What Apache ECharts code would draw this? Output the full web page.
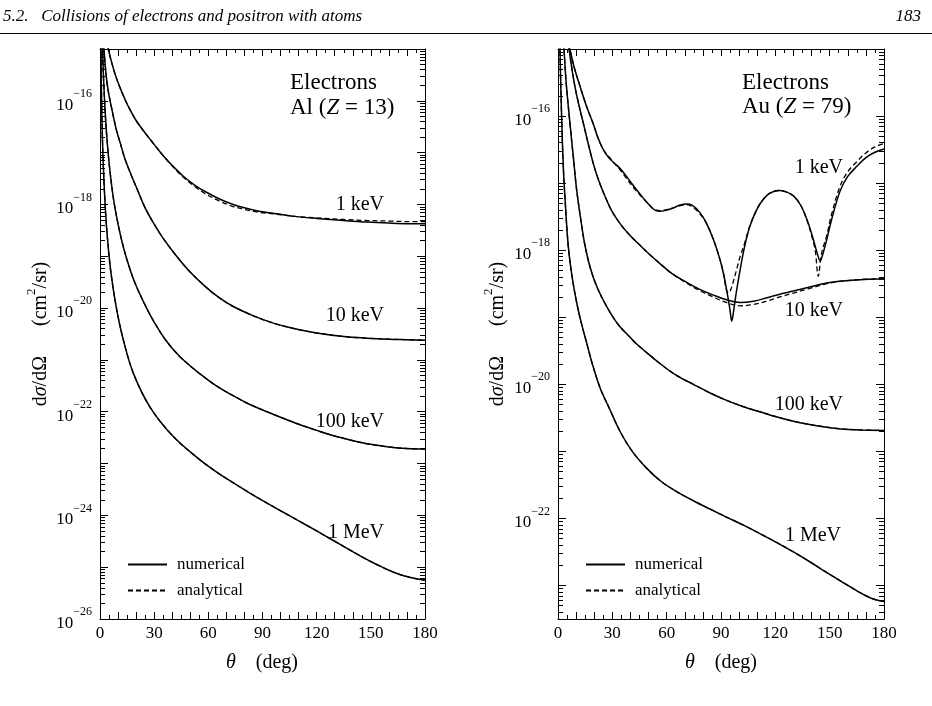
<!DOCTYPE html>
<html>
<head>
<meta charset="utf-8">
<script src="https://cdn.jsdelivr.net/npm/echarts@6/dist/echarts.min.js"></script>
<style>
  html, body { margin: 0; padding: 0; background: #fff; }
  #chart { width: 932px; height: 706px; }
</style>
</head>
<body>
<div id="chart"></div>
<script>
// values are log10 of dσ/dΩ (cm²/sr)

// ---- Al (Z = 13) ----
const thAl1k = [3.5, 4.6, 6, 8.3, 11, 13.8, 15.7, 20, 25, 28.6, 32, 36, 40.6, 46, 52.6, 58.2, 66.5, 73, 79.4, 88, 97.9, 108, 120, 135, 147.7, 160, 170, 180]
const lgAl1kNum = [-14.8, -15.0, -15.2, -15.48, -15.74, -15.97, -16.11, -16.38, -16.62, -16.78, -16.93, -17.1, -17.27, -17.45, -17.63, -17.75, -17.9, -17.99, -18.06, -18.13, -18.18, -18.23, -18.27, -18.31, -18.34, -18.36, -18.37, -18.37]
const lgAl1kAna = [-14.8, -15.0, -15.2, -15.48, -15.74, -15.97, -16.11, -16.38, -16.62, -16.78, -16.93, -17.1, -17.28, -17.47, -17.66, -17.79, -17.94, -18.03, -18.09, -18.15, -18.19, -18.23, -18.26, -18.29, -18.31, -18.32, -18.33, -18.33]

const thAl10k = [2.0, 2.2, 3.3, 4.5, 6.5, 9, 11.1, 13.8, 17.5, 21, 24.9, 30, 35.1, 42, 49.8, 58.2, 66, 73.8, 85, 96, 108, 120, 135, 147.7, 160, 170, 180]
const lgAl10kNum = [-14.85, -15.0, -15.47, -15.8, -16.15, -16.55, -16.8, -17.12, -17.45, -17.74, -18.06, -18.38, -18.66, -18.98, -19.3, -19.58, -19.8, -19.97, -20.15, -20.29, -20.4, -20.48, -20.55, -20.58, -20.6, -20.61, -20.62]
const lgAl10kAna = lgAl10kNum.slice()

const thAl100k = [1.3, 1.4, 2, 3, 4, 5.5, 7.5, 10, 13, 16.6, 20, 25.8, 30, 36, 44.3, 55.4, 64, 73.7, 83, 92.5, 101, 110.8, 120, 129, 139, 148, 160, 170, 180]
const lgAl100kNum = [-14.9, -15.0, -15.6, -16.3, -16.8, -17.35, -17.9, -18.38, -18.83, -19.25, -19.57, -20.0, -20.27, -20.6, -20.94, -21.27, -21.49, -21.69, -21.86, -22.0, -22.12, -22.25, -22.36, -22.46, -22.55, -22.62, -22.68, -22.71, -22.72]
const lgAl100kAna = lgAl100kNum.slice()

const thAl1M = [0.45, 0.5, 0.7, 1, 1.4, 2, 3, 4, 6, 9.1, 12.9, 18.5, 27.7, 40.6, 55.4, 64, 73.7, 83, 92.3, 101, 110.8, 120, 129, 138, 147.7, 154, 160, 166, 172, 176, 180]
const lgAl1MNum = [-14.9, -15.0, -15.6, -16.2, -16.8, -17.4, -18.1, -18.6, -19.3, -20.0, -20.61, -21.26, -21.91, -22.48, -22.93, -23.15, -23.37, -23.57, -23.76, -23.93, -24.12, -24.3, -24.48, -24.66, -24.85, -24.96, -25.06, -25.14, -25.2, -25.23, -25.25]
const lgAl1MAna = lgAl1MNum.slice()

// ---- Au (Z = 79) ----
const thAu1kNum = [5.5, 6.5, 9, 12.1, 15.7, 19.5, 22, 25, 28, 31, 34.2, 37, 40, 43.4, 47, 49.9, 52, 54, 56.3, 59, 63.7, 67, 71.1, 74, 78.4, 82, 85.8, 89, 91.3, 93.5, 95, 95.9, 97, 98.5, 100.5, 103, 106, 110, 113.4, 117, 121.7, 126, 130, 134, 137.4, 140, 142, 143.5, 144.7, 146, 148.4, 151, 155.7, 160, 165, 170, 175, 180]
const lgAu1kNum = [-14.92, -15.0, -15.28, -15.55, -15.85, -16.12, -16.32, -16.5, -16.62, -16.7, -16.78, -16.87, -16.98, -17.1, -17.22, -17.31, -17.37, -17.41, -17.42, -17.41, -17.37, -17.33, -17.31, -17.33, -17.44, -17.6, -17.84, -18.1, -18.34, -18.65, -18.9, -19.06, -18.9, -18.62, -18.3, -17.95, -17.64, -17.38, -17.24, -17.15, -17.11, -17.13, -17.19, -17.33, -17.54, -17.75, -17.94, -18.08, -18.16, -18.08, -17.84, -17.55, -17.12, -16.9, -16.75, -16.62, -16.54, -16.49]
const thAu1kAna = [5.5, 6.5, 9, 12.1, 15.7, 19.5, 22, 25, 28, 31, 34.2, 37, 40, 43.4, 47, 49.9, 52, 54, 56.3, 59, 63.7, 67, 71.1, 74, 78.4, 82, 85.8, 89, 91.3, 93, 94.3, 95.5, 97, 98.7, 100.5, 103, 106, 110, 113.4, 117, 121.7, 126, 130, 134, 137.4, 140, 142, 143.7, 145.5, 148.4, 151, 155.7, 160, 165, 170, 175, 180]
const lgAu1kAna = [-14.92, -15.0, -15.28, -15.55, -15.85, -16.12, -16.32, -16.5, -16.6, -16.7, -16.8, -16.9, -17.01, -17.12, -17.23, -17.31, -17.37, -17.4, -17.41, -17.4, -17.37, -17.34, -17.32, -17.35, -17.46, -17.6, -17.84, -18.1, -18.34, -18.6, -18.64, -18.58, -18.45, -18.28, -18.1, -17.9, -17.63, -17.38, -17.24, -17.15, -17.11, -17.13, -17.19, -17.33, -17.55, -17.78, -18.0, -18.39, -18.05, -17.78, -17.47, -17.05, -16.83, -16.68, -16.55, -16.46, -16.41]

const thAu10k = [5.5, 6.1, 8, 10, 14, 19.5, 23, 26, 30, 35, 39.8, 45, 50, 56.3, 63, 71, 78, 85.8, 93, 100.5, 108, 115.3, 122, 130, 139, 148.4, 157, 166.8, 175, 180]
const lgAu10kNum = [-14.9, -15.0, -15.35, -15.65, -16.11, -16.71, -17.0, -17.2, -17.43, -17.63, -17.78, -17.92, -18.05, -18.2, -18.35, -18.48, -18.58, -18.67, -18.74, -18.78, -18.76, -18.71, -18.66, -18.61, -18.55, -18.49, -18.46, -18.44, -18.43, -18.43]
const lgAu10kAna = [-14.9, -15.0, -15.35, -15.65, -16.11, -16.71, -17.0, -17.2, -17.43, -17.63, -17.78, -17.92, -18.05, -18.2, -18.35, -18.49, -18.6, -18.7, -18.78, -18.83, -18.81, -18.76, -18.7, -18.64, -18.57, -18.5, -18.46, -18.44, -18.43, -18.43]

const thAu100k = [3.0, 3.3, 4.5, 6.6, 8.5, 10.3, 13, 14.9, 18, 22, 26.9, 33, 39.8, 43.4, 50, 56.3, 65, 74.7, 84, 93.1, 102, 111.5, 120, 130, 139, 148.4, 158, 166.8, 180]
const lgAu100kNum = [-14.9, -15.0, -15.5, -16.11, -16.62, -17.1, -17.62, -17.93, -18.28, -18.58, -18.84, -19.1, -19.3, -19.4, -19.55, -19.69, -19.86, -20.0, -20.13, -20.24, -20.33, -20.41, -20.48, -20.55, -20.6, -20.64, -20.67, -20.68, -20.69]
const lgAu100kAna = lgAu100kNum.slice()

const thAu1M = [1.0, 1.1, 1.5, 2.2, 3, 3.9, 5.7, 7.8, 10.3, 13, 15.8, 19, 23.2, 28.7, 34.2, 41, 48.9, 57, 65.5, 75, 83.9, 93, 102.4, 111, 120.8, 130, 139.2, 148, 157.6, 165, 170.5, 175, 180]
const lgAu1MNum = [-14.9, -15.0, -15.5, -16.2, -16.8, -17.24, -17.95, -18.4, -18.78, -19.1, -19.38, -19.7, -20.05, -20.38, -20.7, -21.0, -21.25, -21.45, -21.6, -21.74, -21.86, -21.98, -22.1, -22.22, -22.36, -22.5, -22.65, -22.8, -22.96, -23.08, -23.16, -23.21, -23.24]
const lgAu1MAna = lgAu1MNum.slice()

// axis ranges (log10) and labels
const yRangeAl = [-26, -15]
const yRangeAu = [-23.5, -15]
const yLabelsAl = [-26, -24, -22, -20, -18, -16]
const yLabelsAu = [-22, -20, -18, -16]
const xLabels = [0, 30, 60, 90, 120, 150, 180]
const energyLabels = ['1 keV', '10 keV', '100 keV', '1 MeV']

const FONT = 'Liberation Serif'
const chart = echarts.init(document.getElementById('chart'))

function decades (lo, hi) {
  const out = []
  for (let n = Math.ceil(lo); n <= hi; n++) out.push(n)
  return out
}
function minorLogTicks (lo, hi) {
  const out = []
  for (let n = Math.floor(lo); n < hi; n++) {
    for (let k = 2; k <= 9; k++) {
      const v = n + Math.log10(k)
      if (v > lo && v < hi) out.push(v)
    }
  }
  return out
}

const yLabelRich = {
  b: { fontFamily: FONT, fontSize: 17, color: '#000', lineHeight: 26, verticalAlign: 'bottom' },
  s: { fontFamily: FONT, fontSize: 12, color: '#000', lineHeight: 17, verticalAlign: 'top' }
}

function makeXAxes (g) {
  const base = {
    type: 'value',
    gridIndex: g,
    min: 0,
    max: 180,
    interval: 10,
    axisLine: { show: true, lineStyle: { color: '#000', width: 1 } },
    axisTick: { show: true, inside: true, length: 7, lineStyle: { color: '#000', width: 1 } },
    minorTick: { show: true, splitNumber: 2, length: 4, lineStyle: { color: '#000', width: 1 } },
    splitLine: { show: false },
    minorSplitLine: { show: false }
  }
  return [
    Object.assign({}, base, {
      position: 'bottom',
      axisLabel: {
        show: true,
        color: '#000',
        fontFamily: FONT,
        fontSize: 17,
        margin: 6,
        formatter: v => (xLabels.indexOf(v) >= 0 ? String(v) : '')
      }
    }),
    Object.assign({}, base, { position: 'top', axisLabel: { show: false } })
  ]
}

function makeYAxes (g, range, labels) {
  const majors = decades(range[0], range[1])
  const minors = minorLogTicks(range[0], range[1])
  const base = {
    type: 'value',
    gridIndex: g,
    min: range[0],
    max: range[1],
    splitLine: { show: false }
  }
  const line = { show: true, lineStyle: { color: '#000', width: 1 } }
  return [
    Object.assign({}, base, {
      position: 'left',
      axisLine: line,
      axisTick: { show: true, inside: true, length: 8, customValues: majors, lineStyle: { color: '#000' } },
      axisLabel: {
        show: true,
        customValues: labels,
        margin: 8,
        formatter: v => '{b|10}{s|−' + Math.round(-v) + '}',
        rich: yLabelRich
      }
    }),
    Object.assign({}, base, {
      position: 'left',
      axisLine: { show: false },
      axisTick: { show: true, inside: true, length: 5, customValues: minors, lineStyle: { color: '#000' } },
      axisLabel: { show: false }
    }),
    Object.assign({}, base, {
      position: 'right',
      axisLine: line,
      axisTick: { show: true, inside: true, length: 8, customValues: majors, lineStyle: { color: '#000' } },
      axisLabel: { show: false }
    }),
    Object.assign({}, base, {
      position: 'right',
      axisLine: { show: false },
      axisTick: { show: true, inside: true, length: 5, customValues: minors, lineStyle: { color: '#000' } },
      axisLabel: { show: false }
    })
  ]
}

function pairs (th, lg) {
  return th.map((t, i) => [t, lg[i]])
}

function curve (name, g, th, lg, dashed) {
  return {
    name: name,
    type: 'line',
    xAxisIndex: g * 2,
    yAxisIndex: g * 4,
    data: pairs(th, lg),
    symbol: 'none',
    smooth: 0.35,
    clip: true,
    color: '#000',
    z: dashed ? 3 : 2,
    lineStyle: dashed
      ? { color: '#000', width: 1.3, type: [5, 3] }
      : { color: '#000', width: 1.5, type: 'solid' }
  }
}

const series = [
  curve('numerical', 0, thAl1k, lgAl1kNum, false),
  curve('analytical', 0, thAl1k, lgAl1kAna, true),
  curve('numerical', 0, thAl10k, lgAl10kNum, false),
  curve('analytical', 0, thAl10k, lgAl10kAna, true),
  curve('numerical', 0, thAl100k, lgAl100kNum, false),
  curve('analytical', 0, thAl100k, lgAl100kAna, true),
  curve('numerical', 0, thAl1M, lgAl1MNum, false),
  curve('analytical', 0, thAl1M, lgAl1MAna, true),
  curve('numerical', 1, thAu1kNum, lgAu1kNum, false),
  curve('analytical', 1, thAu1kAna, lgAu1kAna, true),
  curve('numerical', 1, thAu10k, lgAu10kNum, false),
  curve('analytical', 1, thAu10k, lgAu10kAna, true),
  curve('numerical', 1, thAu100k, lgAu100kNum, false),
  curve('analytical', 1, thAu100k, lgAu100kAna, true),
  curve('numerical', 1, thAu1M, lgAu1MNum, false),
  curve('analytical', 1, thAu1M, lgAu1MAna, true)
]

function legendAt (left) {
  return {
    left: left,
    top: 556,
    orient: 'vertical',
    padding: 0,
    itemWidth: 39,
    itemHeight: 14,
    itemGap: 9,
    selectedMode: false,
    itemStyle: { opacity: 0 },
    data: ['numerical', 'analytical'],
    textStyle: { fontFamily: FONT, fontSize: 17, color: '#000', padding: [0, 0, 0, 5] }
  }
}

const serif = (size, extra) => Object.assign({ fontFamily: FONT, fontSize: size, fill: '#000' }, extra || {})

function label (x, y, text, size, align) {
  return { type: 'text', x: x, y: y, silent: true, style: serif(size, { text: text, align: align || 'right', verticalAlign: 'middle' }) }
}

const richTitle = {
  r: { fontFamily: FONT, fontSize: 20, fill: '#000', lineHeight: 26, verticalAlign: 'bottom' },
  i: { fontFamily: FONT, fontSize: 20, fill: '#000', fontStyle: 'italic', lineHeight: 26, verticalAlign: 'bottom' },
  sup: { fontFamily: FONT, fontSize: 13, fill: '#000', lineHeight: 18, verticalAlign: 'top' }
}
const richAnno = {
  r: { fontFamily: FONT, fontSize: 23, fill: '#000' },
  i: { fontFamily: FONT, fontSize: 23, fill: '#000', fontStyle: 'italic' }
}

function yTitle (x) {
  return {
    type: 'text', x: x, y: 334, rotation: Math.PI / 2, silent: true,
    style: { text: '{r|d}{i|σ}{r|/dΩ      (cm}{sup|2}{r|/sr)}', rich: richTitle, align: 'center', verticalAlign: 'middle' }
  }
}
function xTitle (x) {
  return {
    type: 'text', x: x, y: 660, silent: true,
    style: { text: '{i|θ}{r|    (deg)}', rich: richTitle, align: 'center', verticalAlign: 'middle' }
  }
}

const graphic = [
  { type: 'text', x: 3, y: 17, silent: true, style: serif(17, { text: '5.2.   Collisions of electrons and positron with atoms', fontStyle: 'italic', align: 'left', verticalAlign: 'middle' }) },
  { type: 'text', x: 921, y: 17, silent: true, style: serif(17, { text: '183', fontStyle: 'italic', align: 'right', verticalAlign: 'middle' }) },
  { type: 'line', silent: true, shape: { x1: 0, y1: 33.5, x2: 932, y2: 33.5 }, style: { stroke: '#000', lineWidth: 1 } },

  label(290, 83, 'Electrons', 23, 'left'),
  { type: 'text', x: 290, y: 108, silent: true, style: { text: '{r|Al (}{i|Z}{r| = 13)}', rich: richAnno, align: 'left', verticalAlign: 'middle' } },
  label(742, 83, 'Electrons', 23, 'left'),
  { type: 'text', x: 742, y: 107, silent: true, style: { text: '{r|Au (}{i|Z}{r| = 79)}', rich: richAnno, align: 'left', verticalAlign: 'middle' } },

  label(384, 205, energyLabels[0], 20),
  label(384, 316, energyLabels[1], 20),
  label(384, 422, energyLabels[2], 20),
  label(384, 533, energyLabels[3], 20),
  label(843, 168, energyLabels[0], 20),
  label(843, 311, energyLabels[1], 20),
  label(843, 405, energyLabels[2], 20),
  label(841, 536, energyLabels[3], 20),

  yTitle(38),
  yTitle(495),
  xTitle(262),
  xTitle(721)
]

const option = {
  animation: false,
  backgroundColor: '#fff',
  textStyle: { fontFamily: FONT },
  grid: [
    { left: 100, top: 49, width: 325, height: 570 },
    { left: 558, top: 49, width: 326, height: 570 }
  ],
  xAxis: makeXAxes(0).concat(makeXAxes(1)),
  yAxis: makeYAxes(0, yRangeAl, yLabelsAl).concat(makeYAxes(1, yRangeAu, yLabelsAu)),
  legend: [legendAt(127), legendAt(585)],
  series: series,
  graphic: graphic
}

chart.setOption(option)
</script>
</body>
</html>
